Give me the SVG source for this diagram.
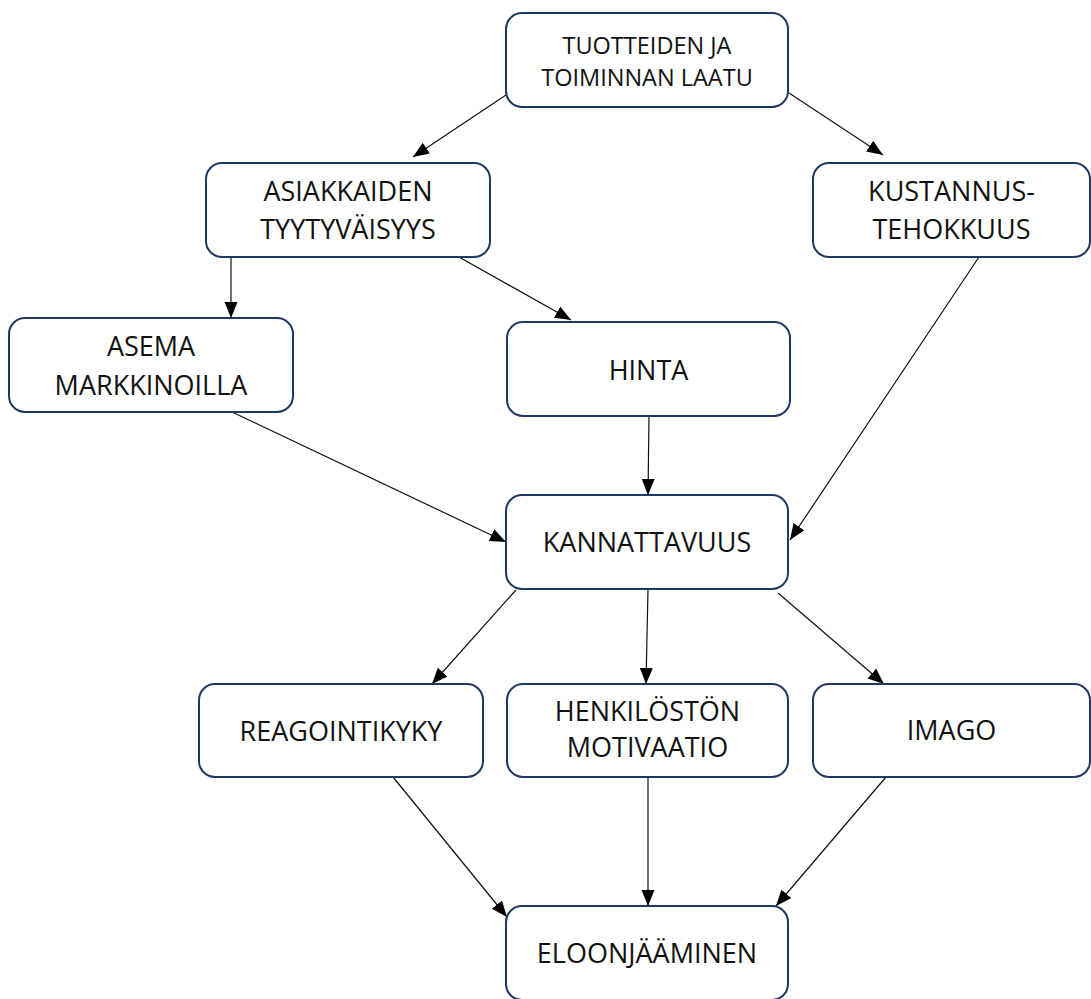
<svg xmlns="http://www.w3.org/2000/svg" width="1091" height="999" viewBox="0 0 1091 999">
  <style>
    .box { fill: #ffffff; stroke: #1f3864; stroke-width: 2; }
    .lbl { font-family: "Open Sans", "Noto Sans", sans-serif; font-size: 27px; fill: #111111; text-anchor: middle; }
    .small { font-size: 23.5px; }
    .edge { stroke: #111111; stroke-width: 1.2; fill: none; marker-end: url(#arrow); }
  </style>
  <defs>
    <marker id="arrow" markerUnits="userSpaceOnUse" markerWidth="17" markerHeight="14" refX="16" refY="6.5" orient="auto">
      <path d="M0,0 L16,6.5 L0,13 Z" fill="#000000"/>
    </marker>
  </defs>
  <rect width="1091" height="999" fill="#ffffff"/>

  <g id="connectors">
    <line class="edge" x1="506" y1="95" x2="413" y2="157"/>
    <line class="edge" x1="789" y1="93" x2="883" y2="155"/>
    <line class="edge" x1="231" y1="257" x2="231" y2="318"/>
    <line class="edge" x1="459" y1="257" x2="571" y2="320"/>
    <line class="edge" x1="979" y1="257" x2="790" y2="540"/>
    <line class="edge" x1="232" y1="412" x2="506" y2="542"/>
    <line class="edge" x1="649" y1="416" x2="648" y2="495"/>
    <line class="edge" x1="516" y1="590" x2="432" y2="684"/>
    <line class="edge" x1="648" y1="589" x2="646" y2="684"/>
    <line class="edge" x1="778" y1="593" x2="884" y2="684"/>
    <line class="edge" x1="393" y1="777" x2="507" y2="917"/>
    <line class="edge" x1="648" y1="777" x2="648" y2="906"/>
    <line class="edge" x1="886" y1="777" x2="776" y2="906"/>
  </g>

  <g id="laatu">
    <rect class="box" x="506" y="13" width="282" height="94" rx="16"/>
    <text class="lbl small" x="647" y="54">TUOTTEIDEN JA</text>
    <text class="lbl small" x="647" y="86">TOIMINNAN LAATU</text>
  </g>
  <g id="tyytyvaisyys">
    <rect class="box" x="206" y="163" width="284" height="94" rx="16"/>
    <text class="lbl" x="348" y="201">ASIAKKAIDEN</text>
    <text class="lbl" x="348" y="239">TYYTYVÄISYYS</text>
  </g>
  <g id="kustannustehokkuus">
    <rect class="box" x="813" y="163" width="277" height="94" rx="16"/>
    <text class="lbl" x="951.5" y="201">KUSTANNUS-</text>
    <text class="lbl" x="951.5" y="239">TEHOKKUUS</text>
  </g>
  <g id="asema">
    <rect class="box" x="9" y="318" width="284" height="94" rx="16"/>
    <text class="lbl" x="151" y="356">ASEMA</text>
    <text class="lbl" x="151" y="395">MARKKINOILLA</text>
  </g>
  <g id="hinta">
    <rect class="box" x="507" y="322" width="283" height="94" rx="16"/>
    <text class="lbl" x="648.5" y="380">HINTA</text>
  </g>
  <g id="kannattavuus">
    <rect class="box" x="506" y="495" width="282" height="94" rx="16"/>
    <text class="lbl" x="647" y="552">KANNATTAVUUS</text>
  </g>
  <g id="reagointikyky">
    <rect class="box" x="199" y="684" width="284" height="93" rx="16"/>
    <text class="lbl" x="341" y="741">REAGOINTIKYKY</text>
  </g>
  <g id="motivaatio">
    <rect class="box" x="507" y="684" width="281" height="93" rx="16"/>
    <text class="lbl" x="647.5" y="721">HENKILÖSTÖN</text>
    <text class="lbl" x="647.5" y="757">MOTIVAATIO</text>
  </g>
  <g id="imago">
    <rect class="box" x="813" y="684" width="277" height="93" rx="16"/>
    <text class="lbl" x="951.5" y="740">IMAGO</text>
  </g>
  <g id="eloonjaaminen">
    <rect class="box" x="506" y="906" width="282" height="94" rx="16"/>
    <text class="lbl" x="647" y="963">ELOONJÄÄMINEN</text>
  </g>
</svg>
